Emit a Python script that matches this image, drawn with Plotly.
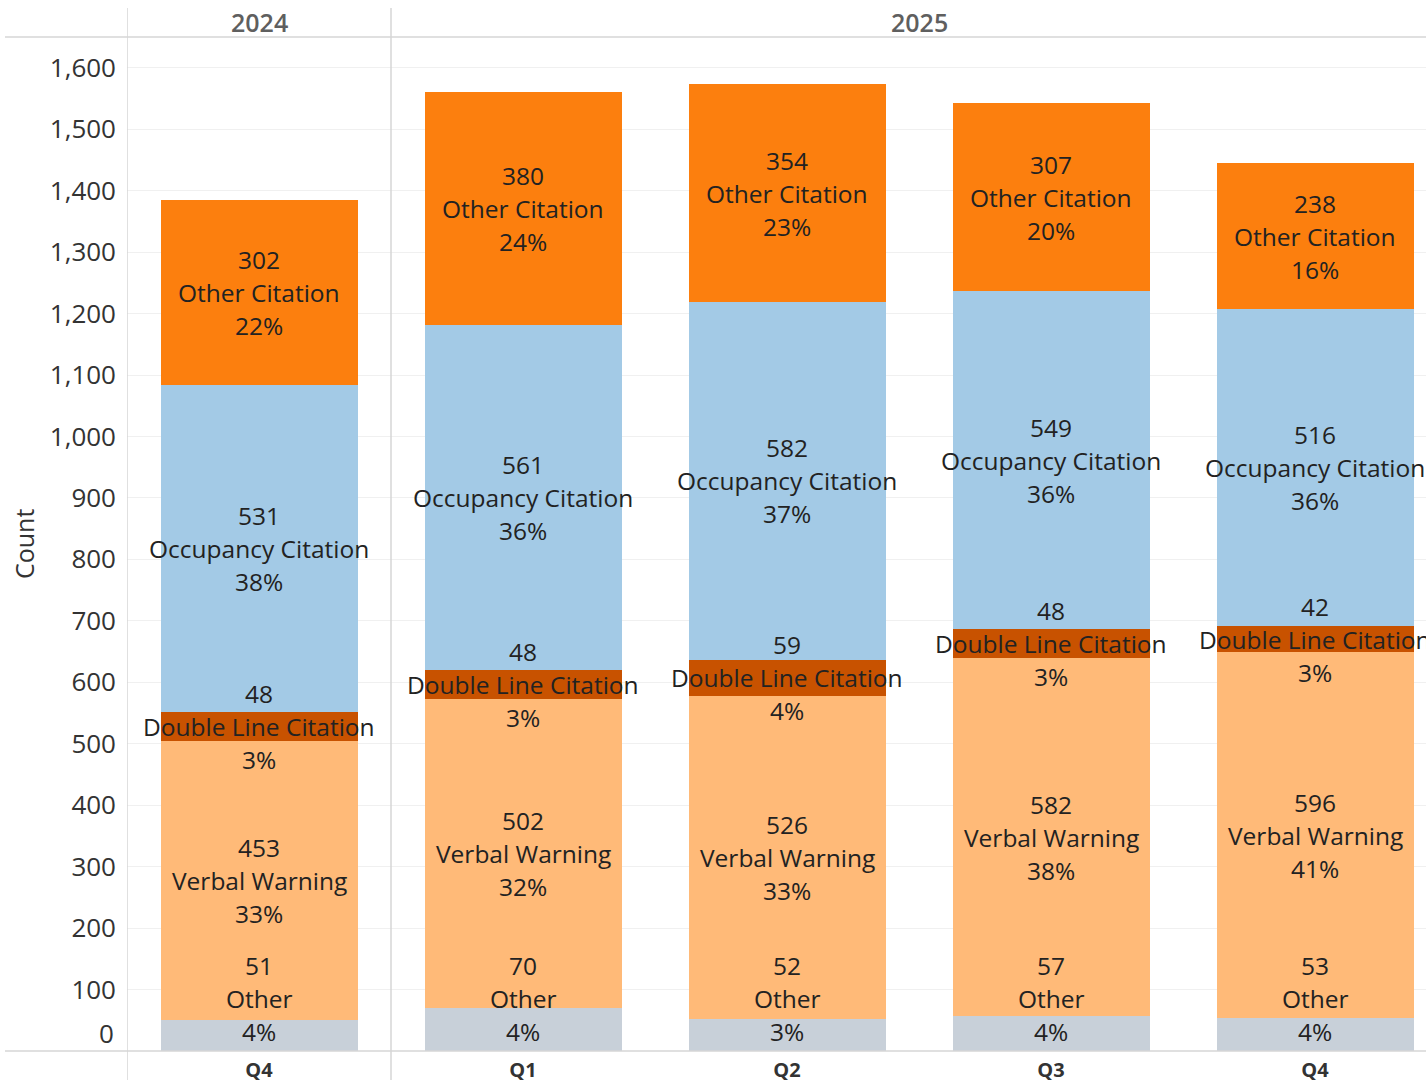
import plotly.graph_objects as go

# ---------------- data ----------------
years = ["2024", "2025"]
year_span = [1, 4]  # number of quarters per year
quarters = ["Q4", "Q1", "Q2", "Q3", "Q4"]
categories = ["Other", "Verbal Warning", "Double Line Citation",
              "Occupancy Citation", "Other Citation"]
other = [51, 70, 52, 57, 53]
verbal_warning = [453, 502, 526, 582, 596]
double_line_citation = [48, 48, 59, 48, 42]
occupancy_citation = [531, 561, 582, 549, 516]
other_citation = [302, 380, 354, 307, 238]
y_ticks = [100, 200, 300, 400, 500, 600, 700, 800, 900, 1000,
           1100, 1200, 1300, 1400, 1500, 1600]

series = [other, verbal_warning, double_line_citation,
          occupancy_citation, other_citation]
colors = ["#C8D0D9", "#FFBA78", "#C85200", "#A3CAE6", "#FC7F0E"]

# ---------------- layout constants ----------------
W, H = 1426, 1085
M_L, M_R, M_T, M_B = 127, 0, 37, 34
plot_w = W - M_L - M_R
plot_h = H - M_T - M_B
Y_MAX = 1650
cell_px = 264
bar_w = 197 / cell_px
x_lo = -0.5
x_hi = x_lo + plot_w / cell_px
FONT = "Open Sans"
TXT = "#222222"
LABEL_SIZE = 24.5
LINE_GAP = 33
px_per_unit = plot_h / Y_MAX
min_center = 53 / px_per_unit  # keep label block inside pane

xs = list(range(len(quarters)))
totals = [sum(s[i] for s in series) for i in xs]

fig = go.Figure()
for cat, vals, col in zip(categories, series, colors):
    fig.add_trace(go.Bar(
        x=xs, y=vals, name=cat, width=bar_w,
        marker=dict(color=col, line=dict(width=0)),
        hoverinfo="skip", showlegend=False,
    ))

annotations = []
base = [0] * len(xs)
for cat, vals in zip(categories, series):
    for i in xs:
        v = vals[i]
        center = base[i] + v / 2
        center = max(center, min_center)
        pct = round(100 * v / totals[i])
        lines = [str(v), cat, f"{pct}%"]
        for k, t in enumerate(lines):
            annotations.append(dict(
                x=i, y=center, xref="x", yref="y", text=t, showarrow=False,
                xanchor="center", yanchor="middle", yshift=LINE_GAP * (1 - k),
                font=dict(family=FONT, size=LABEL_SIZE, color=TXT),
            ))
        base[i] += v

# year header labels
start = 0
for yr, span in zip(years, year_span):
    annotations.append(dict(
        x=start + (span - 1) / 2, y=1, xref="x", yref="paper", text=yr,
        showarrow=False, xanchor="center", yanchor="middle", yshift=15,
        font=dict(family=FONT, size=25, color="#5f5f5f", weight=600),
    ))
    start += span

# zero tick label (kept inside the pane like the reference)
annotations.append(dict(
    x=0, y=0, xref="paper", yref="y", text="0", showarrow=False,
    xanchor="right", yanchor="middle", xshift=-11, yshift=18,
    font=dict(family=FONT, size=26, color="#333333"),
))
# axis title
annotations.append(dict(
    x=-(M_L - 24) / plot_w, y=0.5, xref="paper", yref="paper", text="Count",
    showarrow=False, textangle=-90, xanchor="center", yanchor="middle",
    font=dict(family=FONT, size=25, color="#333333"),
))

shapes = []
line_col = "#d6d6d6"
y_bot = -(1080 - (H - M_B)) / plot_h
y_top = (H - M_B - 8) / plot_h
# vertical dividers: left edge and between years
div_positions = [x_lo]
acc = 0
for span in year_span[:-1]:
    acc += span
    div_positions.append(acc - 0.5)
for xp in div_positions:
    shapes.append(dict(type="line", xref="x", yref="paper", x0=xp, x1=xp,
                       y0=y_bot, y1=y_top, line=dict(color=line_col, width=1.5)))
x_left_paper = -(M_L - 5) / plot_w
for yp in [0, 1]:
    shapes.append(dict(type="line", xref="paper", yref="paper",
                       x0=x_left_paper, x1=1, y0=yp, y1=yp,
                       line=dict(color=line_col, width=1.5)))

fig.update_layout(
    width=W, height=H, barmode="stack",
    margin=dict(l=M_L, r=M_R, t=M_T, b=M_B, pad=0),
    plot_bgcolor="white", paper_bgcolor="white",
    annotations=annotations, shapes=shapes,
    font=dict(family=FONT, color="#333333"),
    bargap=0,
)
fig.update_xaxes(
    range=[x_lo, x_hi], tickvals=xs, ticktext=quarters, showgrid=False,
    zeroline=False, showline=False, ticks="",
    tickfont=dict(family=FONT, size=20, color="#333333", weight="bold"),
    ticklabelstandoff=5,
)
fig.update_yaxes(
    range=[0, Y_MAX], tickvals=y_ticks, tickformat=",", showgrid=True,
    gridcolor="#f0f0f0", gridwidth=1, zeroline=False, showline=False,
    ticks="", tickfont=dict(family=FONT, size=26, color="#333333"),
    ticklabelstandoff=10,
)

fig.write_html(
    "out.html",
    config={"displayModeBar": False},
    post_script="document.body.style.margin='0';document.body.style.overflow='hidden';",
)
